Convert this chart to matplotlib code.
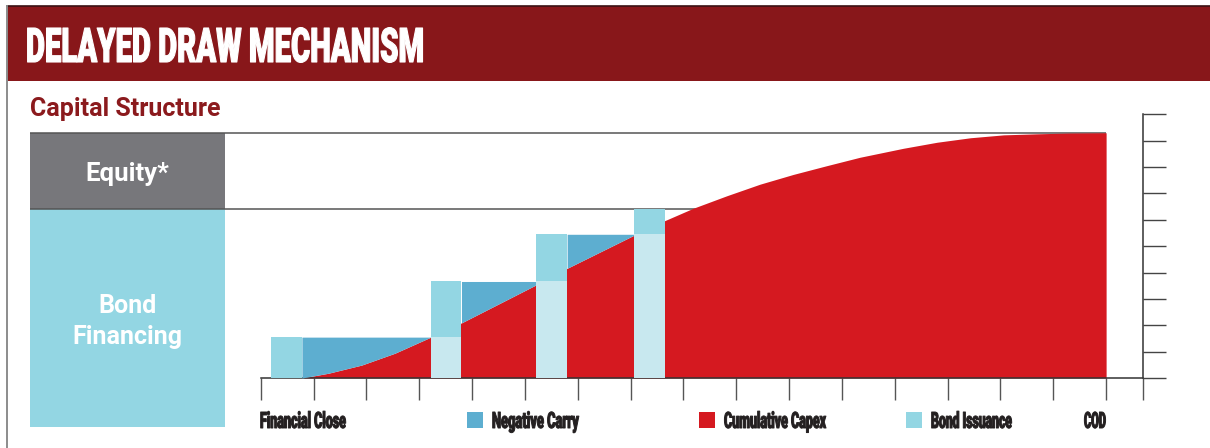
import numpy as np
import matplotlib
matplotlib.use("Agg")
import matplotlib.pyplot as plt
from matplotlib import patheffects as pe
from matplotlib.patches import Rectangle
from matplotlib.transforms import Affine2D

# cumulative capex curve (x = period, y = share of total)
capex_x = [0.78, 1.28, 1.91, 2.54, 3.22, 3.80, 5.21, 5.80, 7.07, 7.65, 8.19, 8.82,
           9.45, 10.08, 10.71, 11.34, 12.16, 12.80, 13.43, 14.06, 14.69, 15.32, 16.00]
capex_y = [0.00, 0.18, 0.49, 0.94, 1.55, 2.09, 3.53, 4.16, 5.42, 5.97, 6.44, 6.91,
           7.35, 7.72, 8.05, 8.37, 8.71, 8.94, 9.11, 9.22, 9.26, 9.29, 9.30]

# bond issuance tranches
issue_left = [0.20, 3.22, 5.21, 7.07]
issue_right = [0.78, 3.80, 5.80, 7.65]
issue_top = [1.55, 3.66, 5.45, 6.42]

equity_top = 9.30
bond_top = 6.42
n_periods = 16

legend_labels = ["Negative Carry", "Cumulative Capex", "Bond Issuance"]

RED = "#D51920"
CARRY = "#5DAED0"
ISSUE = "#93D6E3"
PALE = "#C8E8EF"
GREY = "#77777B"
BANNER = "#88171A"
INK = "#231F20"

FONT = ["Roboto", "DejaVu Sans"]


class Stretch(pe.AbstractPathEffect):
    # stretches the glyphs upward from the baseline (and can fatten them)
    # to imitate the tall condensed display face of the original
    def __init__(self, sy, y0, stroke=0):
        super().__init__()
        self.sy, self.y0, self.stroke = sy, y0, stroke

    def draw_path(self, renderer, gc, tpath, affine, rgbFace=None):
        t = affine + Affine2D().translate(0, -self.y0).scale(1, self.sy).translate(0, self.y0)
        if self.stroke:
            gc0 = renderer.new_gc()
            gc0.copy_properties(gc)
            gc0.set_linewidth(self.stroke)
            gc0.set_foreground(rgbFace)
            renderer.draw_path(gc0, tpath, t, rgbFace)
            gc0.restore()
        else:
            renderer.draw_path(gc, tpath, t, rgbFace)


fig = plt.figure(figsize=(12.10, 4.48), dpi=100)
renderer = fig.canvas.get_renderer()

# background layer in pixel coordinates (y down)
bg = fig.add_axes([0, 0, 1, 1])
bg.set_xlim(0, 1210)
bg.set_ylim(448, 0)
bg.axis("off")


def condensed(x, y, s, width, cap, stroke=0, **kw):
    # size the text to the wanted width, then stretch it to the wanted cap height
    t = bg.text(x, y, s, fontsize=20, va="baseline", **kw)
    bb = t.get_window_extent(renderer)
    size = 20 * width / bb.width
    t.set_fontsize(size)
    sy = cap / (0.711 * size * 100 / 72)
    y0 = bg.transData.transform((x, y))[1]
    t.set_path_effects([Stretch(sy, y0, stroke)])
    return t


bg.add_patch(Rectangle((6.5, 6), 1210, 75, color=BANNER, lw=0))
bg.plot([6.5, 1210], [6.5, 6.5], color="#3B1214", lw=1.2)
bg.plot([6.5, 6.5], [6, 448], color="#8C8C8C", lw=1.4)

condensed(26, 62, "DELAYED DRAW MECHANISM", 398, 34, stroke=0.8, color="white",
          family=FONT, weight="black", ha="left")

sub = bg.text(30, 116, "Capital Structure", color="#8B1A1D", fontsize=18,
              family=FONT, weight="bold", va="baseline", ha="left")

# bottom labels and legend
lab_kw = dict(color=INK, family=FONT, weight="black", ha="left")
condensed(260, 428, "Financial Close", 86, 16, stroke=0.7, **lab_kw)
sq_x = [467, 699, 906]
txt_x = [492, 724, 931]
txt_w = [87, 102, 81]
for lab, c, sx, tx, tw in zip(legend_labels, [CARRY, RED, ISSUE], sq_x, txt_x, txt_w):
    bg.add_patch(Rectangle((sx, 412), 16, 16, color=c, lw=0))
    condensed(tx, 428, lab, tw, 16, stroke=0.7, **lab_kw)
condensed(1084, 428, "COD", 22, 16, stroke=0.7, **lab_kw)

# chart layer in data coordinates
ax = fig.add_axes([260.7 / 1210, 70 / 448, 882.4 / 1210, 263.7 / 448])
ax.patch.set_alpha(0)
ax.set_xlim(0, n_periods + 0.7)
ax.set_ylim(0, 10)

x = np.array(capex_x)
y = np.array(capex_y)

# capital structure bands
ax.axhspan(bond_top, equity_top, xmin=-0.2614, xmax=-0.0404, color=GREY, lw=0,
           clip_on=False, zorder=0)
ax.axhspan(-1.87, bond_top, xmin=-0.2614, xmax=-0.0404, color=ISSUE, lw=0,
           clip_on=False, zorder=0)
ax.hlines([equity_top, bond_top], -4.37, n_periods, color="#555555", lw=1.1,
          clip_on=False, zorder=1)
ax.text(127.5, 181, "Equity*", color="white", fontsize=18.5, family=FONT,
        weight="bold", ha="center", va="baseline", transform=bg.transData,
        zorder=6)
ax.text(127.5, 344, "Bond\nFinancing", color="white", fontsize=18, family=FONT,
        weight="bold", ha="center", va="baseline", linespacing=1.36,
        multialignment="center", transform=bg.transData, zorder=6)

ax.fill_between(x, 0, y, color=RED, lw=0, zorder=2)

# negative carry between tranches
for k in range(len(issue_top) - 1):
    m = (x >= issue_right[k]) & (x <= issue_left[k + 1])
    ax.fill_between(x, y, issue_top[k], where=m, color=CARRY, lw=0, zorder=3)

# bond issuance bars: already-drawn part pale, new tranche stronger
prev = [0] + issue_top[:-1]
w = np.array(issue_right) - np.array(issue_left)
ax.bar(issue_left, prev, width=w, bottom=0, align="edge", color=PALE, lw=0, zorder=4)
ax.bar(issue_left, np.array(issue_top) - np.array(prev), width=w, bottom=prev,
       align="edge", color=ISSUE, lw=0, zorder=4)

for s in ["top", "left"]:
    ax.spines[s].set_visible(False)
ax.spines["bottom"].set_color("#333333")
ax.spines["bottom"].set_linewidth(1.1)
ax.spines["right"].set_color("#333333")
ax.spines["right"].set_linewidth(1.1)

ax.set_xticks(list(range(n_periods + 1)) + [n_periods + 0.7])
ax.set_yticks(range(11))
ax.yaxis.tick_right()
ax.tick_params(axis="x", direction="out", length=16, width=1.0, color="#555555",
               labelbottom=False)
ax.tick_params(axis="y", direction="out", length=16.5, width=1.0, color="#444444",
               labelright=False, left=False, right=True)

fig.savefig("out.png", dpi=100)
